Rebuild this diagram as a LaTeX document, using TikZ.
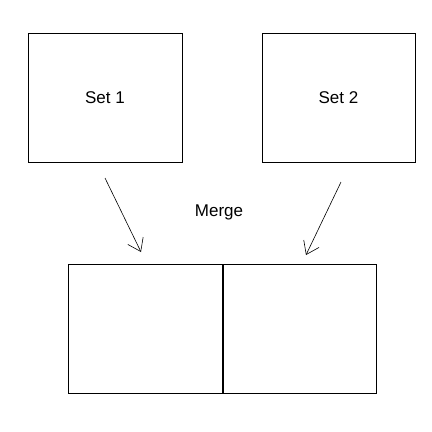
\documentclass[tikz,border=0pt]{standalone}
\usepackage{fontspec}
\setmainfont{Liberation Sans}
\usetikzlibrary{arrows.meta}
\begin{document}
\begin{tikzpicture}[x=1pt,y=-1pt,
  setbox/.style={draw,line width=1pt,minimum width=154pt,minimum height=129pt,inner sep=0pt,font=\fontsize{17}{20}\selectfont},
  halfbox/.style={minimum width=154pt,minimum height=128pt,inner sep=0pt},
  mergearrow/.style={line width=0.6pt,-{Straight Barb[length=12pt,width=17pt,line width=0.6pt]}},
  lbl/.style={font=\fontsize{17}{20}\selectfont,inner sep=0pt}]
\useasboundingbox (0,0) rectangle (432,432);
\fill[white] (0,0) rectangle (432,432);
\node[setbox] (s1) at (105,97.5) {Set 1};
\node[setbox,minimum width=153pt] (s2) at (338.5,97.5) {Set 2};
\node[lbl] (m) at (219,212) {Merge};
\node[halfbox] (l) at (146,329) {};
\node[halfbox,minimum width=153pt] (r) at (299.5,329) {};
\draw[line width=1pt] (l.north west) rectangle (r.south east);
\draw[line width=2pt] (l.north east) -- (l.south east);
\coordinate (a1s) at (105,178);
\coordinate (a1e) at (141,252);
\coordinate (a2s) at (341,182);
\coordinate (a2e) at (306,255);
\draw[mergearrow] (a1s) -- (a1e);
\draw[mergearrow] (a2s) -- (a2e);
\end{tikzpicture}
\end{document}
